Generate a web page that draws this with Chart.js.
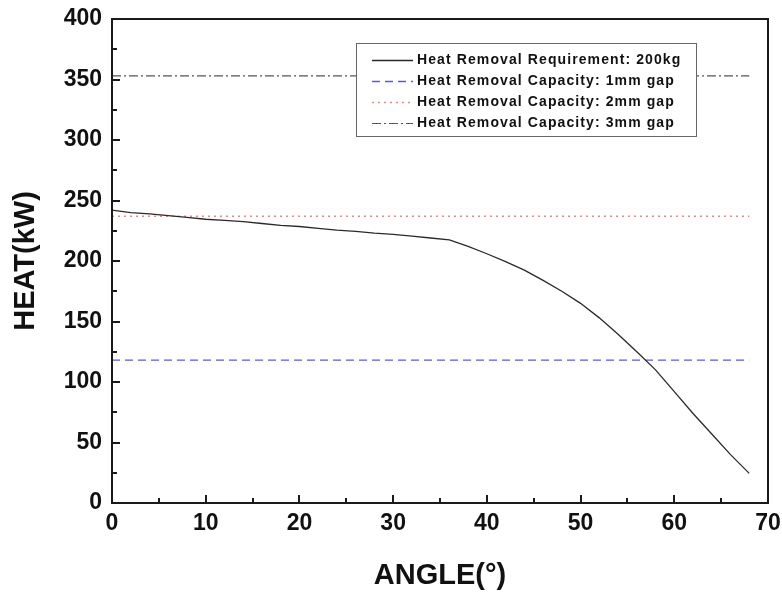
<!DOCTYPE html>
<html>
<head>
<meta charset="utf-8">
<script src="https://cdn.jsdelivr.net/npm/chart.js@4.4.0/dist/chart.umd.min.js"></script>
<style>
    html, body { margin: 0; padding: 0; background: #fff; }
</style>
</head>
<body>
<canvas id="heat-chart" width="782" height="597"></canvas>
<script>
// heat removal requirement vs. angle
const angles = [0, 2, 4, 6, 8, 10, 12, 14, 16, 18, 20, 22, 24, 26, 28, 30, 32, 34, 36,
    38, 40, 42, 44, 46, 48, 50, 52, 54, 56, 58, 60, 62, 64, 66, 68];
const requirement = [242, 240, 239, 237.5, 236, 234.5, 233.5, 232.5, 231, 229.5, 228.5, 227,
    225.5, 224.5, 223, 222, 220.5, 219, 217.5, 212, 206, 199.5, 192.5, 184, 175, 165, 153,
    139.5, 125, 110, 92, 74, 57, 40, 24.5];

// capacity lines, constant over the angle range
const capacityAngles = [0, 68];
const capacity1mm = [118, 118];
const capacity2mm = [237, 237];
const capacity3mm = [353, 353];

const xTicks = [0, 10, 20, 30, 40, 50, 60, 70];
const yTicks = [0, 50, 100, 150, 200, 250, 300, 350, 400];

const labels = [
    "Heat Removal Requirement: 200kg",
    "Heat Removal Capacity: 1mm gap",
    "Heat Removal Capacity: 2mm gap",
    "Heat Removal Capacity: 3mm gap"
];

function toPoints(xs, ys) {
    return xs.map((x, i) => ({ x: x, y: ys[i] }));
}

const FONT = "'Liberation Sans', Arial, sans-serif";

// box around the plot + inward tick marks
const framePlugin = {
    id: "frame",
    afterDraw(chart) {
        const { ctx, chartArea: a } = chart;
        const xs = chart.scales.x;
        const ys = chart.scales.y;
        ctx.save();
        ctx.strokeStyle = "#1a1a1a";
        ctx.lineWidth = 2;
        ctx.strokeRect(a.left, a.top, a.right - a.left, a.bottom - a.top);

        ctx.beginPath();
        for (let v = xs.min; v <= xs.max; v += 5) {
            const px = Math.round(xs.getPixelForValue(v));
            const len = v % 10 === 0 ? 8 : 5;
            ctx.moveTo(px, a.bottom);
            ctx.lineTo(px, a.bottom - len);
        }
        for (let v = ys.min; v <= ys.max; v += 25) {
            const py = Math.round(ys.getPixelForValue(v));
            const len = v % 50 === 0 ? 8 : 5;
            ctx.moveTo(a.left, py);
            ctx.lineTo(a.left + len, py);
        }
        ctx.stroke();
        ctx.restore();
    }
};

// legend box in the upper right of the plot
const legendPlugin = {
    id: "boxLegend",
    afterDatasetsDraw(chart) {
        const { ctx, chartArea: a } = chart;
        const left = a.left + 244;
        const top = a.top + 24;
        const w = 340;
        const h = 93;
        ctx.save();
        ctx.fillStyle = "#fff";
        ctx.fillRect(left, top, w, h);
        ctx.strokeStyle = "#666";
        ctx.lineWidth = 1;
        ctx.strokeRect(left + 0.5, top + 0.5, w, h);

        ctx.font = "bold 14px " + FONT;
        ctx.letterSpacing = "1.1px";
        ctx.textBaseline = "middle";
        chart.data.datasets.forEach((ds, i) => {
            const y = Math.round(top + 17 + i * 21) + 0.5;
            ctx.strokeStyle = ds.borderColor;
            ctx.lineWidth = ds.borderWidth;
            ctx.setLineDash(ds.borderDash || []);
            ctx.beginPath();
            ctx.moveTo(left + 16, y);
            ctx.lineTo(left + 57, y);
            ctx.stroke();
            ctx.setLineDash([]);
            ctx.fillStyle = "#111";
            ctx.fillText(ds.label, left + 61, y);
        });
        ctx.restore();
    }
};

const ctx = document.getElementById("heat-chart").getContext("2d");

new Chart(ctx, {
    type: "line",
    data: {
        datasets: [
            {
                label: labels[0],
                data: toPoints(angles, requirement),
                borderColor: "#2a2a2a",
                borderWidth: 1.3,
                pointRadius: 0,
                tension: 0
            },
            {
                label: labels[1],
                data: toPoints(capacityAngles, capacity1mm),
                borderColor: "#5a5ad8",
                borderWidth: 1.3,
                borderDash: [8, 5],
                pointRadius: 0
            },
            {
                label: labels[2],
                data: toPoints(capacityAngles, capacity2mm),
                borderColor: "#e48a8a",
                borderWidth: 1.3,
                borderDash: [2, 4],
                pointRadius: 0
            },
            {
                label: labels[3],
                data: toPoints(capacityAngles, capacity3mm),
                borderColor: "#555",
                borderWidth: 1.2,
                borderDash: [9, 3, 2, 3],
                pointRadius: 0
            }
        ]
    },
    options: {
        responsive: false,
        animation: false,
        layout: {
            padding: { left: 0, right: 14, top: 19, bottom: 0 }
        },
        scales: {
            x: {
                type: "linear",
                min: 0,
                max: 70,
                afterFit(scale) {
                    scale.height = 94;
                    scale.paddingLeft = 0;
                    scale.paddingRight = 0;
                },
                afterBuildTicks(scale) { scale.ticks = xTicks.map(v => ({ value: v })); },
                grid: { display: false, drawTicks: false },
                border: { display: false },
                ticks: {
                    padding: 7,
                    color: "#111",
                    font: { family: FONT, weight: "bold", size: 23 }
                },
                title: {
                    display: true,
                    text: "ANGLE(°)",
                    color: "#111",
                    padding: { top: 0, bottom: 4 },
                    font: { family: FONT, weight: "bold", size: 29 }
                }
            },
            y: {
                min: 0,
                max: 400,
                afterFit(scale) {
                    scale.width = 112;
                    scale.paddingTop = 0;
                    scale.paddingBottom = 0;
                },
                afterBuildTicks(scale) { scale.ticks = yTicks.map(v => ({ value: v })); },
                grid: { display: false, drawTicks: false },
                border: { display: false },
                ticks: {
                    padding: 10,
                    color: "#111",
                    font: { family: FONT, weight: "bold", size: 23 }
                },
                title: {
                    display: true,
                    text: "HEAT(kW)",
                    color: "#111",
                    padding: { top: 9, bottom: 0 },
                    font: { family: FONT, weight: "bold", size: 29 }
                }
            }
        },
        plugins: {
            legend: { display: false },
            tooltip: { enabled: false }
        }
    },
    plugins: [legendPlugin, framePlugin]
});
</script>
</body>
</html>
